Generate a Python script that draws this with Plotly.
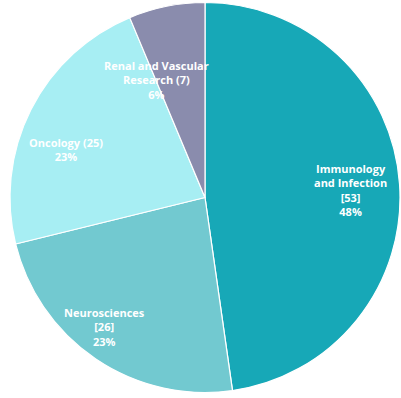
import plotly.graph_objects as go

# Research areas and project counts
areas = ["Immunology and Infection", "Neurosciences", "Oncology", "Renal and Vascular Research"]
counts = [53, 26, 25, 7]
colors = ["#17A8B7", "#72C9D0", "#A7EEF3", "#8A8CAD"]

# Label text per slice and where it sits (pixel position on the page)
label_lines = [
    ["Immunology", "and Infection", "[{c}]", "{p}%"],
    ["Neurosciences", "[{c}]", "{p}%"],
    ["Oncology ({c})", "{p}%"],
    ["Renal and Vascular", "Research ({c})", "{p}%"],
]
label_xy = [(350, 190), (104, 327), (66, 149), (156, 80)]

total = sum(counts)
W, H = 401, 398

fig = go.Figure(
    go.Pie(
        labels=areas,
        values=counts,
        sort=False,
        direction="clockwise",
        rotation=0,
        marker=dict(colors=colors, line=dict(color="white", width=1.2)),
        textinfo="none",
        hoverinfo="label+value+percent",
        domain=dict(x=[10 / W, 400 / W], y=[4.5 / H, 396.5 / H]),
        showlegend=False,
    )
)

for lines, c, (x, y) in zip(label_lines, counts, label_xy):
    pct = round(100 * c / total)
    text = "<br>".join(l.format(c=c, p=pct) for l in lines)
    fig.add_annotation(
        x=x / W, y=1 - y / H, xref="paper", yref="paper",
        text=text, showarrow=False,
        font=dict(family="Open Sans", size=11, color="white", weight="bold"),
        align="center", xanchor="center", yanchor="middle",
    )

fig.update_layout(
    width=W, height=H,
    margin=dict(l=0, r=0, t=0, b=0),
    paper_bgcolor="white",
    plot_bgcolor="white",
)

fig.write_html("out.html")
